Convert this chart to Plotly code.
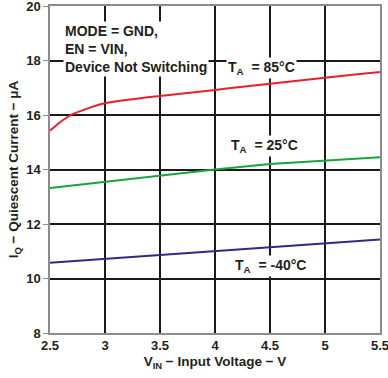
import plotly.graph_objects as go

vin = [2.5, 2.55, 2.6, 2.65, 2.7, 2.8, 2.9, 3.0, 3.25, 3.5, 3.75, 4.0, 4.25, 4.5, 4.75, 5.0, 5.25, 5.5]
iq_85 = [15.43, 15.6, 15.76, 15.9, 16.02, 16.18, 16.32, 16.43, 16.58, 16.7, 16.81, 16.92, 17.04, 17.15, 17.26, 17.37, 17.48, 17.58]
vin_lin = [2.5, 3.0, 3.5, 4.0, 4.5, 5.0, 5.5]
iq_25 = [13.32, 13.55, 13.77, 14.0, 14.2, 14.32, 14.45]
iq_m40 = [10.58, 10.72, 10.86, 11.0, 11.14, 11.28, 11.43]

x_ticks = [2.5, 3, 3.5, 4, 4.5, 5, 5.5]
x_labels = ["2.5", "3", "3.5", "4", "4.5", "5", "5.5"]
y_ticks = [8, 10, 12, 14, 16, 18, 20]

FONT = "Liberation Sans, Arial, sans-serif"

fig = go.Figure()
fig.add_trace(go.Scatter(x=vin, y=iq_85, mode="lines", line=dict(color="#e8202a", width=2, shape="spline"), showlegend=False))
fig.add_trace(go.Scatter(x=vin_lin, y=iq_25, mode="lines", line=dict(color="#16a43c", width=2), showlegend=False))
fig.add_trace(go.Scatter(x=vin_lin, y=iq_m40, mode="lines", line=dict(color="#2e2a86", width=2), showlegend=False))

ann_font = dict(family=FONT, size=14, color="#231f20")
fig.add_annotation(x=2.62, y=19.45, xanchor="left", yanchor="top", align="left",
                   text="<b>MODE = GND,<br>EN = VIN,<br>Device Not Switching</b>",
                   showarrow=False, bgcolor="white", font=ann_font, borderpad=1)
fig.add_annotation(x=4.42, y=17.72, text="<b>T<sub>A</sub>  = 85°C</b>", showarrow=False,
                   bgcolor="white", font=ann_font)
fig.add_annotation(x=4.45, y=14.88, text="<b>T<sub>A</sub>  = 25°C</b>", showarrow=False,
                   bgcolor="white", font=ann_font)
fig.add_annotation(x=4.5, y=10.45, text="<b>T<sub>A</sub>  = -40°C</b>", showarrow=False,
                   bgcolor="white", font=ann_font)

fig.update_layout(
    width=388, height=378,
    margin=dict(l=50, r=8, t=6, b=45),
    paper_bgcolor="white", plot_bgcolor="white",
    font=dict(family=FONT, size=13, color="#231f20"),
)
fig.update_xaxes(
    range=[2.5, 5.5], tickvals=x_ticks, ticktext=["<b>%s</b>" % t for t in x_labels],
    showgrid=True, gridcolor="#1a1a1a", gridwidth=2,
    showline=True, linecolor="#8c8c8c", linewidth=1.5, mirror=True,
    ticks="", zeroline=False, automargin=False, ticklabeloverflow="allow",
    title=dict(text="<b>V<sub>IN</sub> − Input Voltage − V</b>", standoff=4, font=dict(size=13.5)),
)
fig.update_yaxes(
    range=[8, 20], tickvals=y_ticks, ticktext=["<b>%d</b>" % t for t in y_ticks],
    showgrid=True, gridcolor="#1a1a1a", gridwidth=2,
    showline=True, linecolor="#8c8c8c", linewidth=1.5, mirror=True,
    ticks="outside", ticklen=5, tickcolor="#8c8c8c", zeroline=False, automargin=False,
    ticklabeloverflow="allow",
    title=dict(text="<b>I<sub>Q</sub> − Quiescent Current − μA</b>", standoff=4, font=dict(size=13.5)),
)

fig.write_html("out.html", config={"displayModeBar": False},
               post_script="document.body.style.margin='0';")
